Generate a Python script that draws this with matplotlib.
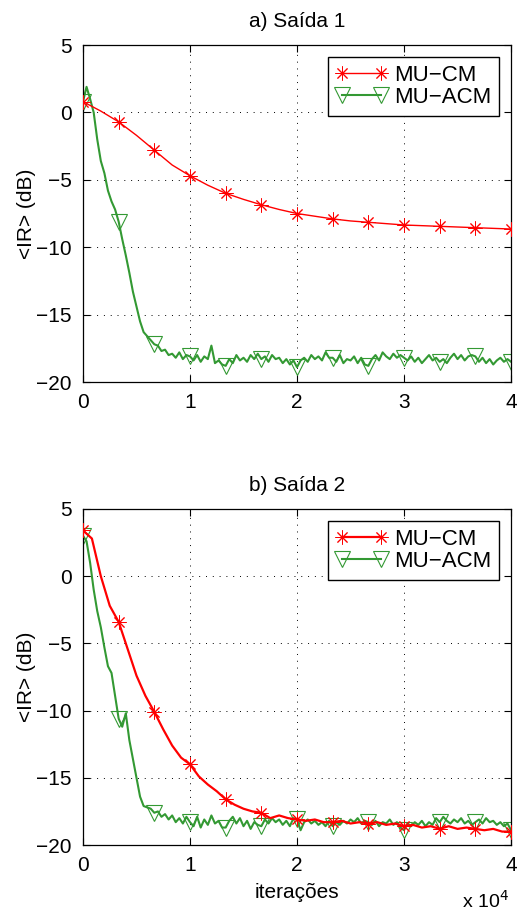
import numpy as np
import matplotlib
matplotlib.use("Agg")
import matplotlib.pyplot as plt

plt.rcParams['font.family'] = ['Liberation Sans', 'DejaVu Sans']
plt.rcParams['font.size'] = 15

# x axis in units of 10^4 iteracoes
x_green = np.arange(121) / 30.0   # step ~333 iteracoes
x_red_a = np.arange(25) / 6.0
x_red_b = np.arange(49) / 12.0

# a) Saida 1
cm_a = [0.8, 0.1, -0.7, -1.7, -2.8, -3.9, -4.7, -5.4, -6.0, -6.45, -6.85, -7.2, -7.5,
        -7.7, -7.9, -8.05, -8.15, -8.25, -8.35, -8.4, -8.45, -8.5, -8.55, -8.6, -8.65]
acm_a = [0.8, 1.9, 1.0, 0.0, -2.0, -3.6, -4.5, -5.8, -6.6, -7.2,
         -8.1, -9.4, -10.6, -11.9, -13.3, -14.4, -15.5, -16.3, -16.6, -16.9,
         -17.2, -17.3, -17.7, -17.6, -18.0, -17.9, -18.2, -17.8, -18.3, -18.0,
         -18.1, -18.4, -18.0, -18.5, -18.1, -18.3, -17.3, -18.6, -18.4, -18.7,
         -18.8, -18.3, -18.6, -18.0, -18.4, -18.2, -18.5, -18.0, -18.3, -17.9,
         -18.3, -18.1, -18.5, -18.0, -18.3, -18.2, -18.6, -18.3, -18.7, -18.4,
         -18.9, -18.4, -18.2, -18.5, -18.0, -18.3, -18.1, -18.4, -17.8, -18.2,
         -18.2, -18.5, -18.0, -18.6, -18.3, -18.4, -18.1, -18.6, -18.2, -18.7,
         -18.8, -18.3, -18.0, -18.4, -17.8, -18.1, -18.3, -17.9, -18.2, -18.0,
         -18.2, -18.4, -18.1, -18.5, -18.2, -18.6, -18.3, -18.0, -18.4, -18.2,
         -18.5, -18.3, -18.6, -18.2, -17.9, -18.3, -18.0, -18.4, -18.1, -18.0,
         -18.1, -18.5, -18.2, -18.6, -18.3, -18.7, -18.4, -18.2, -18.5, -18.3,
         -18.5]

# b) Saida 2
cm_b = [3.4, 2.8, 0.0, -2.2, -3.4, -5.4, -7.4, -8.9, -10.1, -11.4, -12.6, -13.5,
        -14.0, -14.9, -15.5, -16.0, -16.6, -17.0, -17.3, -17.5, -17.6, -18.0, -17.8, -18.0,
        -18.1, -18.2, -18.1, -18.3, -18.3, -18.2, -18.4, -18.3, -18.4, -18.3, -18.5, -18.4,
        -18.6, -18.5, -18.7, -18.6, -18.8, -18.6, -18.8, -18.7, -18.8, -18.9, -18.8, -19.0,
        -19.0]
acm_b = [3.0, 2.6, 1.0, -1.0, -2.6, -3.8, -5.3, -6.7, -7.2, -8.9,
         -10.6, -11.2, -10.2, -12.2, -13.6, -15.0, -16.4, -17.1, -17.2, -17.3,
         -17.6, -17.5, -17.9, -17.7, -18.1, -17.8, -18.3, -18.0, -18.4, -17.9,
         -18.3, -18.6, -17.9, -18.7, -18.1, -18.5, -17.8, -18.4, -18.2, -18.7,
         -18.7, -18.2, -17.9, -18.4, -18.0, -18.6, -18.2, -18.8, -18.3, -18.5,
         -18.6, -18.1, -18.4, -18.0, -18.3, -18.1, -18.5, -18.2, -18.6, -18.0,
         -18.1, -18.9, -18.3, -18.1, -18.4, -18.2, -18.5, -18.3, -18.6, -18.2,
         -18.6, -18.3, -18.5, -18.2, -18.4, -18.1, -18.3, -18.0, -18.4, -18.2,
         -18.3, -18.5, -18.2, -18.6, -18.3, -18.4, -18.1, -18.5, -18.3, -18.7,
         -18.9, -18.4, -18.6, -18.3, -18.5, -18.2, -18.6, -18.3, -18.5, -18.0,
         -18.3, -17.9, -18.2, -18.4, -18.1, -18.3, -18.0, -18.4, -18.2, -18.5,
         -18.3, -18.1, -18.4, -18.0, -18.3, -18.2, -18.5, -18.3, -18.6, -18.4,
         -18.9]

titles = ["a) Saída 1", "b) Saída 2"]
red = '#ff0000'
green = '#339933'
star = (8, 2, 0)

fig = plt.figure(figsize=(5.17, 9.10), dpi=100)
ax1 = fig.add_axes([0.1605, 0.5802, 0.828, 0.3703])
ax2 = fig.add_axes([0.1605, 0.0714, 0.828, 0.3693])

panels = [(ax1, x_red_a, cm_a, 2, acm_a, 1.0), (ax2, x_red_b, cm_b, 4, acm_b, 1.6)]
for i, (ax, xr, cm, every, acm, lw_red) in enumerate(panels):
    ax.plot(xr, cm, color=red, lw=lw_red, marker=star, markersize=10,
            markeredgewidth=0.7, markevery=every, label='MU−CM', zorder=3)
    ax.plot(x_green, acm, color=green, lw=1.5, marker='v', markersize=11,
            markerfacecolor='none', markeredgewidth=0.8, markevery=10,
            label='MU−ACM', zorder=2)
    ax.set_xlim(0, 4)
    ax.set_ylim(-20, 5)
    ax.set_xticks([0, 1, 2, 3, 4])
    ax.set_yticks([-20, -15, -10, -5, 0, 5])
    ax.grid(True, color='black', linestyle=(0, (1, 6)), lw=0.7)
    ax.tick_params(direction='in', length=5, width=0.8, top=True, right=True, pad=8)
    for s in ax.spines.values():
        s.set_linewidth(0.9)
    ax.set_title(titles[i], fontsize=15, pad=13)
    ax.set_ylabel('<IR> (dB)', fontsize=15, labelpad=0)
    leg = ax.legend(loc='upper right', numpoints=2, handlelength=2.35,
                    fancybox=False, edgecolor='black', framealpha=1,
                    borderaxespad=0.55, borderpad=0.35, labelspacing=0.05,
                    handletextpad=0.27, fontsize=16)
    leg.get_frame().set_linewidth(1.0)

ax2.set_xlabel('iterações', fontsize=15, labelpad=6)
fig.text(0.985, -0.002, r'x 10$^4$', ha='right', va='bottom', fontsize=14)

fig.savefig('out.png', dpi=100)
